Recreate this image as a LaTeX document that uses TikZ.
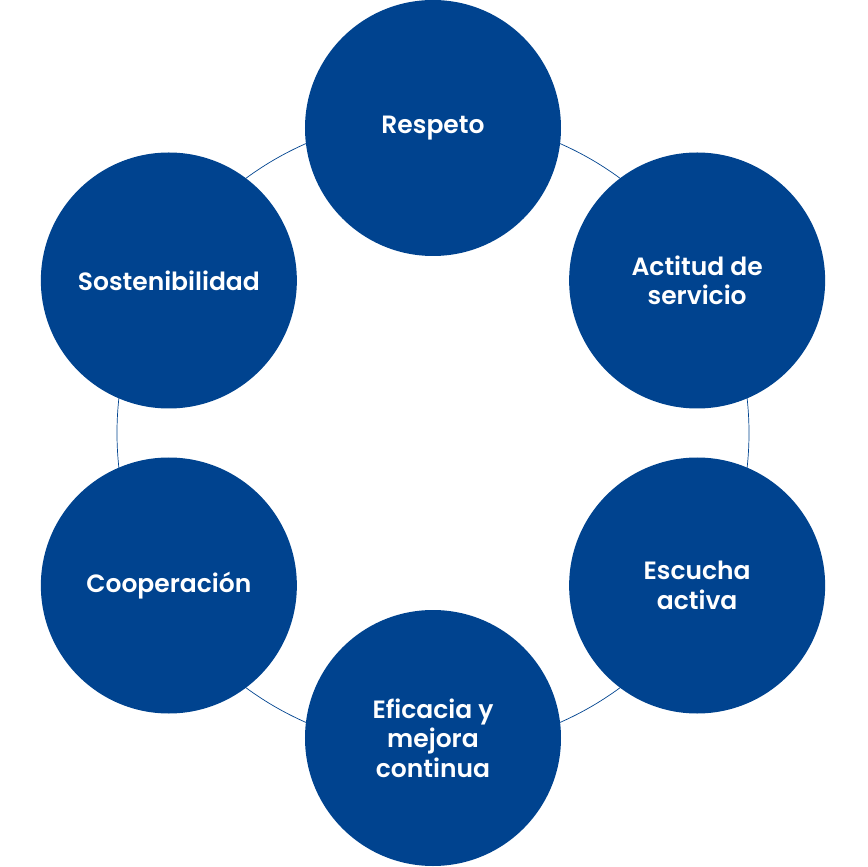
\documentclass[tikz,border=0pt]{standalone}
\usepackage{fontspec}
\setmainfont{Poppins}[BoldFont={Poppins SemiBold}]
\usepackage{xcolor}
\usepackage{tikz}
\definecolor{azulvalor}{HTML}{00438F}
\tikzset{
  valor/.style={circle, fill=azulvalor, minimum size=256pt, inner sep=0pt,
    text=white, align=center, font=\fontsize{25}{29.5}\selectfont\bfseries}
}

\begin{document}
\begin{tikzpicture}[x=1pt,y=1pt]
\useasboundingbox (-433,-434) rectangle (434,433);
\draw[azulvalor, line width=0.7pt] (0,0) circle (316);
\node[valor] (respeto) at (90:305) {Respeto};
\node[valor] (actitud) at (30:305) {Actitud de\\servicio};
\node[valor] (escucha) at (-30:305) {Escucha\\activa};
\node[valor] (eficacia) at (-90:305) {Eficacia y\\mejora\\continua};
\node[valor] (cooperacion) at (-150:305) {Cooperación};
\node[valor] (sosten) at (150:305) {Sostenibilidad};
\end{tikzpicture}
\end{document}
